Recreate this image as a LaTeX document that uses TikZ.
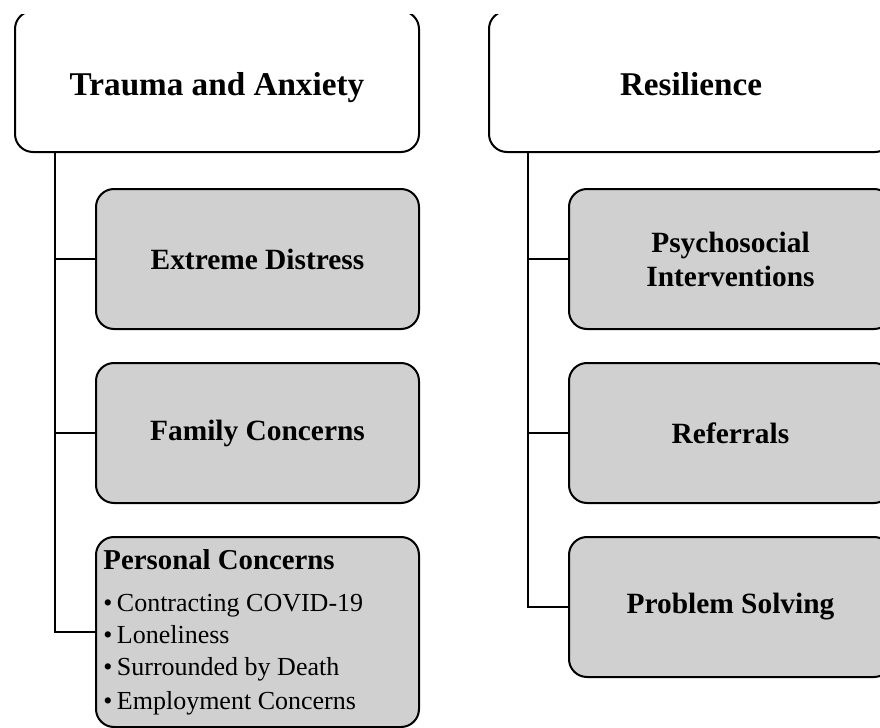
\documentclass[tikz,border=0pt]{standalone}
\usepackage{fontspec}
\setmainfont{Liberation Serif}
\usetikzlibrary{positioning, calc}
\definecolor{boxgray}{RGB}{208,208,208}
\tikzset{
    x=0.5pt, y=-0.5pt, % one unit is one pixel of the layout
    headbox/.style={draw, line width=1pt, rounded corners=9pt, fill=white,
        minimum width=202pt, minimum height=70.5pt, inner sep=0pt,
        text height=14pt, text depth=0.5pt,
        font=\fontsize{16.6}{20}\selectfont\bfseries}, % top-level themes
    subbox/.style={draw, line width=1pt, rounded corners=9pt, fill=boxgray,
        minimum width=161.5pt, minimum height=70pt, inner sep=0pt, align=center,
        font=\fontsize{14.7}{17}\selectfont\bfseries}, % sub-themes
    link/.style={line width=1pt},
}

\begin{document}
\begin{tikzpicture}
    \useasboundingbox (0,0) rectangle (880,728);
    \clip (0,14) rectangle (880,728);

    % left column
    \node[headbox, anchor=south west] (trauma) at (14,153) {Trauma and Anxiety};
    \node[subbox, anchor=north west] (distress) at (95,188) {Extreme Distress};
    \node[subbox, below=16pt of distress.south west, anchor=north west] (family) {Family Concerns};
    \node[subbox, below=16pt of family.south west, anchor=north west,
        minimum height=95pt, align=flush left, text width=154pt] (personal)
        {\fontsize{14.4}{17}\selectfont Personal Concerns\\[5pt]
         {\fontsize{13}{16}\selectfont\mdseries
         \textbullet\,Contracting COVID-19\\
         \textbullet\,Loneliness\\
         \textbullet\,Surrounded by Death\\
         \textbullet\,Employment Concerns}};

    % right column
    \node[headbox, anchor=south west] (resil) at (488,153) {Resilience};
    \node[subbox, anchor=north west] (psycho) at (568,188) {Psychosocial\\Interventions};
    \node[subbox, below=16pt of psycho.south west, anchor=north west] (refer) {Referrals};
    \node[subbox, below=16pt of refer.south west, anchor=north west] (solve) {Problem Solving};

    % connectors
    \coordinate (lt) at ($(trauma.south west)+(41,0)$);
    \coordinate (rt) at ($(resil.south west)+(40,0)$);
    \draw[link] (lt) |- (personal.west);
    \draw[link] (lt |- distress.west) -- (distress.west);
    \draw[link] (lt |- family.west) -- (family.west);
    \draw[link] (rt) |- (solve.west);
    \draw[link] (rt |- psycho.west) -- (psycho.west);
    \draw[link] (rt |- refer.west) -- (refer.west);
\end{tikzpicture}
\end{document}
